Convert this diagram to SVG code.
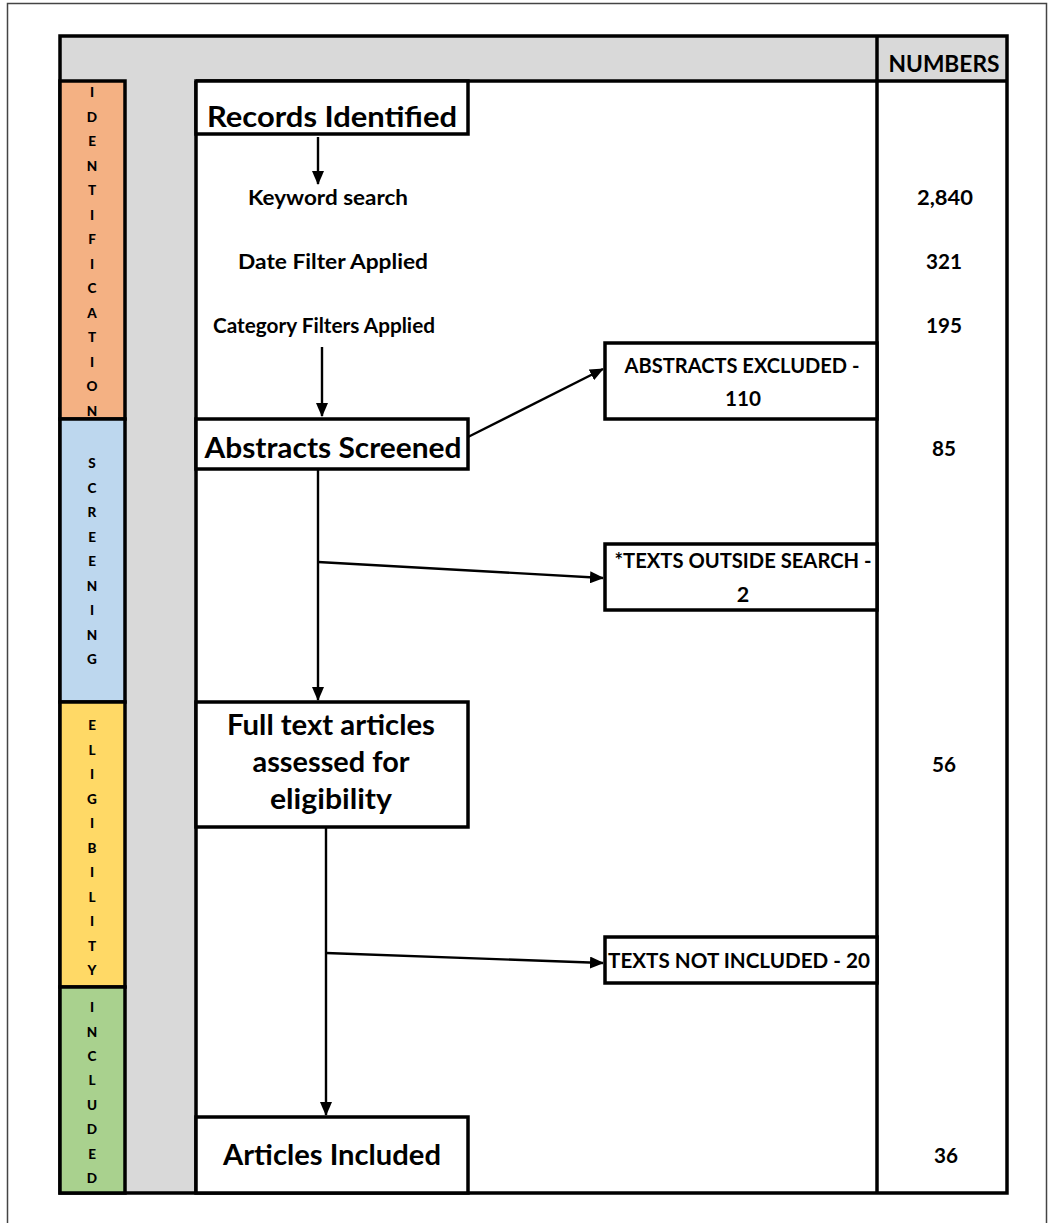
<svg xmlns="http://www.w3.org/2000/svg" width="1054" height="1223" viewBox="0 0 1054 1223">
<defs>
<style>
text{font-family:Lato,"Open Sans","Liberation Sans",sans-serif;font-weight:700;fill:#000;text-anchor:middle}
.big{font-size:29px}
.sm{font-size:21.5px}
.side{font-size:13.5px;font-weight:900}
.bx{fill:#fff;stroke:#000;stroke-width:3.5}
.cell{stroke:#000;stroke-width:3.5}
.ln{stroke:#000;stroke-width:3.5;fill:none}
.arr{stroke:#000;stroke-width:2.4;fill:none;marker-end:url(#ah)}
</style>
<marker id="ah" markerUnits="userSpaceOnUse" markerWidth="14" markerHeight="12" refX="13" refY="6" orient="auto"><path d="M0,0 L14,6 L0,12 Z" fill="#000"/></marker>
</defs>
<rect width="1054" height="1223" fill="#fff"/>
<rect x="7.5" y="3.5" width="1039" height="1240" fill="none" stroke="#444" stroke-width="1.5"/>

<g id="table">
<rect x="60" y="36" width="947" height="45" fill="#d9d9d9"/>
<rect x="125" y="81" width="71" height="1112" fill="#d9d9d9"/>
<rect x="196" y="81" width="681" height="1112" fill="#fff"/>
<rect x="877" y="81" width="130" height="1112" fill="#fff"/>
<line class="ln" x1="196" y1="81" x2="1007" y2="81"/>
<line class="ln" x1="196" y1="81" x2="196" y2="1193"/>
<line class="ln" x1="877" y1="36" x2="877" y2="1193"/>
<rect x="60" y="36" width="947" height="1157" fill="none" stroke="#000" stroke-width="3.5"/>
<text x="944" y="72" style="font-size:23px" textLength="111" lengthAdjust="spacingAndGlyphs">NUMBERS</text>
</g>

<g id="phase-identification">
<rect class="cell" x="60" y="81" width="65" height="338" fill="#f4b183"/>
<text class="side"><tspan x="92" y="97">I</tspan><tspan x="92" y="121.5">D</tspan><tspan x="92" y="146">E</tspan><tspan x="92" y="170.5">N</tspan><tspan x="92" y="195">T</tspan><tspan x="92" y="219.5">I</tspan><tspan x="92" y="244">F</tspan><tspan x="92" y="268.5">I</tspan><tspan x="92" y="293">C</tspan><tspan x="92" y="317.5">A</tspan><tspan x="92" y="342">T</tspan><tspan x="92" y="366.5">I</tspan><tspan x="92" y="391">O</tspan><tspan x="92" y="415.5">N</tspan></text>
</g>
<g id="phase-screening">
<rect class="cell" x="60" y="419" width="65" height="283" fill="#bdd7ee"/>
<text class="side"><tspan x="92" y="468">S</tspan><tspan x="92" y="492.5">C</tspan><tspan x="92" y="517">R</tspan><tspan x="92" y="541.5">E</tspan><tspan x="92" y="566">E</tspan><tspan x="92" y="590.5">N</tspan><tspan x="92" y="615">I</tspan><tspan x="92" y="639.5">N</tspan><tspan x="92" y="664">G</tspan></text>
</g>
<g id="phase-eligibility">
<rect class="cell" x="60" y="702" width="65" height="285" fill="#ffd966"/>
<text class="side"><tspan x="92" y="730">E</tspan><tspan x="92" y="754.5">L</tspan><tspan x="92" y="779">I</tspan><tspan x="92" y="803.5">G</tspan><tspan x="92" y="828">I</tspan><tspan x="92" y="852.5">B</tspan><tspan x="92" y="877">I</tspan><tspan x="92" y="901.5">L</tspan><tspan x="92" y="926">I</tspan><tspan x="92" y="950.5">T</tspan><tspan x="92" y="975">Y</tspan></text>
</g>
<g id="phase-included">
<rect class="cell" x="60" y="987" width="65" height="206" fill="#a9d18e"/>
<text class="side"><tspan x="92" y="1012">I</tspan><tspan x="92" y="1036.5">N</tspan><tspan x="92" y="1060.5">C</tspan><tspan x="92" y="1085">L</tspan><tspan x="92" y="1109.5">U</tspan><tspan x="92" y="1134">D</tspan><tspan x="92" y="1158.5">E</tspan><tspan x="92" y="1182.5">D</tspan></text>
</g>

<g id="connectors">
<line class="arr" x1="318" y1="137" x2="318" y2="184"/>
<line class="arr" x1="322" y1="347" x2="322" y2="416"/>
<line class="arr" x1="468" y1="437" x2="603" y2="369"/>
<line class="arr" x1="318" y1="470" x2="318" y2="700"/>
<line class="arr" x1="318" y1="562" x2="603" y2="578"/>
<line class="arr" x1="326" y1="828" x2="326" y2="1115"/>
<line class="arr" x1="326" y1="953" x2="603" y2="963"/>
</g>

<g id="records-identified">
<rect class="bx" x="196" y="81" width="272" height="53"/>
<text class="big" x="332" y="127" textLength="250" lengthAdjust="spacingAndGlyphs">Records Identified</text>
</g>
<g id="keyword-search">
<text class="sm" x="328" y="205" textLength="160" lengthAdjust="spacingAndGlyphs">Keyword search</text>
</g>
<g id="date-filter">
<text class="sm" x="333" y="269" textLength="190" lengthAdjust="spacingAndGlyphs">Date Filter Applied</text>
</g>
<g id="category-filters">
<text class="sm" x="324" y="333" textLength="222" lengthAdjust="spacingAndGlyphs">Category Filters Applied</text>
</g>
<g id="abstracts-screened">
<rect class="bx" x="196" y="419" width="272" height="50"/>
<text class="big" x="333" y="458" textLength="257" lengthAdjust="spacingAndGlyphs">Abstracts Screened</text>
</g>
<g id="abstracts-excluded">
<rect class="bx" x="605" y="343" width="272" height="76"/>
<text class="sm" x="742" y="373" textLength="235" lengthAdjust="spacingAndGlyphs">ABSTRACTS EXCLUDED -</text>
<text class="sm" x="743" y="406" textLength="36" lengthAdjust="spacingAndGlyphs">110</text>
</g>
<g id="texts-outside-search">
<rect class="bx" x="605" y="544" width="272" height="66"/>
<text class="sm" x="743" y="568" textLength="257" lengthAdjust="spacingAndGlyphs">*TEXTS OUTSIDE SEARCH -</text>
<text class="sm" x="743" y="602">2</text>
</g>
<g id="full-text-assessed">
<rect class="bx" x="196" y="702" width="272" height="125"/>
<text class="big" x="331" y="735" textLength="208" lengthAdjust="spacingAndGlyphs">Full text articles</text>
<text class="big" x="331" y="772" textLength="157" lengthAdjust="spacingAndGlyphs">assessed for</text>
<text class="big" x="331" y="809" textLength="122" lengthAdjust="spacingAndGlyphs">eligibility</text>
</g>
<g id="texts-not-included">
<rect class="bx" x="605" y="937" width="272" height="46"/>
<text class="sm" x="739" y="968" textLength="262" lengthAdjust="spacingAndGlyphs">TEXTS NOT INCLUDED - 20</text>
</g>
<g id="articles-included">
<rect class="bx" x="196" y="1117" width="272" height="76"/>
<text class="big" x="332" y="1165" textLength="218" lengthAdjust="spacingAndGlyphs">Articles Included</text>
</g>

<g id="numbers">
<text class="sm" x="945" y="205" textLength="56" lengthAdjust="spacingAndGlyphs">2,840</text>
<text class="sm" x="944" y="269" textLength="36" lengthAdjust="spacingAndGlyphs">321</text>
<text class="sm" x="944" y="333" textLength="36" lengthAdjust="spacingAndGlyphs">195</text>
<text class="sm" x="944" y="456" textLength="24" lengthAdjust="spacingAndGlyphs">85</text>
<text class="sm" x="944" y="772" textLength="24" lengthAdjust="spacingAndGlyphs">56</text>
<text class="sm" x="946" y="1163" textLength="24" lengthAdjust="spacingAndGlyphs">36</text>
</g>
</svg>
